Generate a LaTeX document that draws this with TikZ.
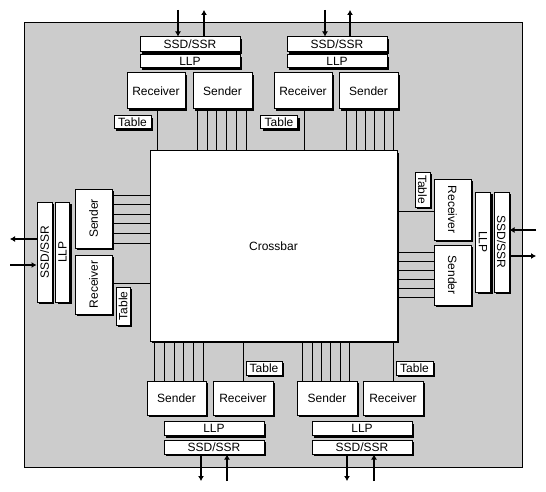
\documentclass[tikz,border=0pt]{standalone}
\usepackage{fontspec}
\setmainfont{Liberation Sans}
\usepackage{graphicx}
\usetikzlibrary{arrows.meta,shadows}
\definecolor{bggray}{RGB}{204,204,204}
\begin{document}
\begin{tikzpicture}[x=1pt,y=-1pt,
  box/.style={draw, fill=white, line width=1pt, inner sep=0pt,
    general shadow={fill=black, shadow xshift=2pt, shadow yshift=-2pt},
    font=\fontsize{12}{14}\selectfont},
  wire/.style={line width=1pt},
  io/.style={line width=1.6pt, -{Latex[length=5pt,width=6pt]}}]
\useasboundingbox (0,0) rectangle (546,492);
\fill[bggray, draw=black, line width=1pt] (24,23) rectangle (522,467);

% crossbar
\node[box, minimum width=247pt, minimum height=190pt] (xbar) at (273.5,246) {Crossbar};

% ---------- top left
\node[box, minimum width=100pt, minimum height=15pt] (ssdTL) at (190,44.5) {SSD/SSR};
\node[box, minimum width=100pt, minimum height=13pt] (llpTL) at (190,61.5) {LLP};
\node[box, minimum width=58pt, minimum height=36pt] (recTL) at (156,91) {Receiver};
\node[box, minimum width=59pt, minimum height=36pt] (sndTL) at (222.5,91) {Sender};
\node[box, minimum width=37pt, minimum height=13pt] (tabTL) at (132.5,122.5) {Table};
\draw[wire] (recTL.south -| 157,0) -- (xbar.north -| 157,0);
\foreach \x in {197,207,216,226,236,246}
  \draw[wire] (sndTL.south -| \x,0) -- (xbar.north -| \x,0);
\coordinate (tlIn) at (178,10);
\coordinate (tlOut) at (204,10);
\draw[io] (tlIn) -- (tlIn |- ssdTL.north);
\draw[io] (tlOut |- ssdTL.north) -- (tlOut);

% ---------- top right
\node[box, minimum width=100pt, minimum height=15pt] (ssdTR) at (337,44.5) {SSD/SSR};
\node[box, minimum width=100pt, minimum height=13pt] (llpTR) at (337,61.5) {LLP};
\node[box, minimum width=58pt, minimum height=36pt] (recTR) at (303,91) {Receiver};
\node[box, minimum width=59pt, minimum height=36pt] (sndTR) at (368.5,91) {Sender};
\node[box, minimum width=37pt, minimum height=13pt] (tabTR) at (279,122.5) {Table};
\draw[wire] (recTR.south -| 304,0) -- (xbar.north -| 304,0);
\foreach \x in {346,356,365,374,384,393}
  \draw[wire] (sndTR.south -| \x,0) -- (xbar.north -| \x,0);
\coordinate (trIn) at (325,10);
\coordinate (trOut) at (350,10);
\draw[io] (trIn) -- (trIn |- ssdTR.north);
\draw[io] (trOut |- ssdTR.north) -- (trOut);

% ---------- left
\node[box, minimum width=15pt, minimum height=100pt] (ssdL) at (44.5,252) {\rotatebox{90}{SSD/SSR}};
\node[box, minimum width=14pt, minimum height=100pt] (llpL) at (62.5,252) {\rotatebox{90}{LLP}};
\node[box, minimum width=37pt, minimum height=59pt] (sndL) at (93.5,218.5) {\rotatebox{90}{Sender}};
\node[box, minimum width=37pt, minimum height=59pt] (recL) at (93.5,284.5) {\rotatebox{90}{Receiver}};
\node[box, minimum width=14pt, minimum height=38pt] (tabL) at (123,306) {\rotatebox{90}{Table}};
\draw[wire] (recL.east |- 0,283) -- (xbar.west |- 0,283);
\foreach \y in {195,204,214,223,233,243}
  \draw[wire] (sndL.east |- 0,\y) -- (xbar.west |- 0,\y);
\coordinate (lOut) at (10,239);
\coordinate (lIn) at (10,265);
\draw[io] (ssdL.west |- lOut) -- (lOut);
\draw[io] (lIn) -- (ssdL.west |- lIn);

% ---------- right
\node[box, minimum width=15pt, minimum height=35pt] (tabR) at (422.5,189.5) {\rotatebox{-90}{Table}};
\node[box, minimum width=37pt, minimum height=61pt] (recR) at (452.5,209.5) {\rotatebox{-90}{Receiver}};
\node[box, minimum width=37pt, minimum height=60pt] (sndR) at (452.5,275) {\rotatebox{-90}{Sender}};
\node[box, minimum width=15pt, minimum height=100pt] (llpR) at (483,242) {\rotatebox{-90}{LLP}};
\node[box, minimum width=15pt, minimum height=100pt] (ssdR) at (501.5,242) {\rotatebox{-90}{SSD/SSR}};
\draw[wire] (xbar.east |- 0,211) -- (recR.west |- 0,211);
\foreach \y in {252,261,270,279,288,297}
  \draw[wire] (xbar.east |- 0,\y) -- (sndR.west |- 0,\y);
\coordinate (rIn) at (536,230);
\coordinate (rOut) at (536,256);
\draw[io] (rIn) -- (ssdR.east |- rIn);
\draw[io] (ssdR.east |- rOut) -- (rOut);

% ---------- bottom left
\node[box, minimum width=59pt, minimum height=34pt] (sndBL) at (176.5,398) {Sender};
\node[box, minimum width=60pt, minimum height=34pt] (recBL) at (243,398) {Receiver};
\node[box, minimum width=100pt, minimum height=14pt] (llpBL) at (214,428.5) {LLP};
\node[box, minimum width=100pt, minimum height=14pt] (ssdBL) at (214,447) {SSD/SSR};
\node[box, minimum width=36pt, minimum height=14pt] (tabBL) at (264,368) {Table};
\draw[wire] (xbar.south -| 243,0) -- (recBL.north -| 243,0);
\foreach \x in {154,164,174,183,193,203}
  \draw[wire] (xbar.south -| \x,0) -- (sndBL.north -| \x,0);
\coordinate (blOut) at (201,481);
\coordinate (blIn) at (227,481);
\draw[io] (blOut |- ssdBL.south) -- (blOut);
\draw[io] (blIn) -- (blIn |- ssdBL.south);

% ---------- bottom right
\node[box, minimum width=60pt, minimum height=34pt] (sndBR) at (327,398) {Sender};
\node[box, minimum width=60pt, minimum height=34pt] (recBR) at (393,398) {Receiver};
\node[box, minimum width=100pt, minimum height=14pt] (llpBR) at (362,428.5) {LLP};
\node[box, minimum width=100pt, minimum height=14pt] (ssdBR) at (362,447) {SSD/SSR};
\node[box, minimum width=37pt, minimum height=14pt] (tabBR) at (414.5,368) {Table};
\draw[wire] (xbar.south -| 393,0) -- (recBR.north -| 393,0);
\foreach \x in {302,312,321,330,340,349}
  \draw[wire] (xbar.south -| \x,0) -- (sndBR.north -| \x,0);
\coordinate (brOut) at (347,481);
\coordinate (brIn) at (374,481);
\draw[io] (brOut |- ssdBR.south) -- (brOut);
\draw[io] (brIn) -- (brIn |- ssdBR.south);
\end{tikzpicture}
\end{document}
